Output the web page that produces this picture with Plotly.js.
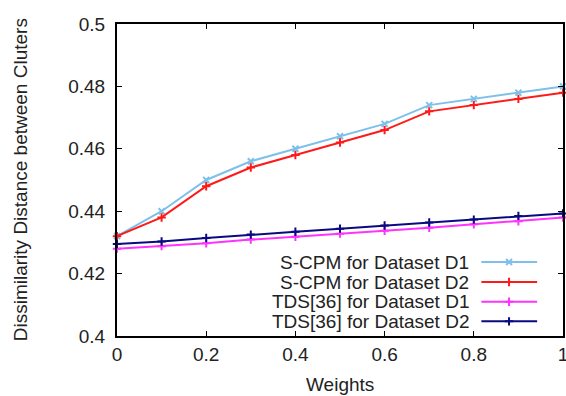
<!DOCTYPE html>
<html><head><meta charset="utf-8">
<script src="https://cdn.plot.ly/plotly-3.0.1.min.js"></script>
<style>html,body{margin:0;padding:0;background:#fff}</style>
</head><body><div id="chart" style="width:566px;height:396px"></div>
<script>
const weights = [0, 0.1, 0.2, 0.3, 0.4, 0.5, 0.6, 0.7, 0.8, 0.9, 1.0];
const scpmD1 = [0.432, 0.440, 0.450, 0.456, 0.460, 0.464, 0.468, 0.474, 0.476, 0.478, 0.480];
const scpmD2 = [0.432, 0.438, 0.448, 0.454, 0.458, 0.462, 0.466, 0.472, 0.474, 0.476, 0.478];
const tdsD1  = [0.4280, 0.4288, 0.4297, 0.4309, 0.4318, 0.4328, 0.4337, 0.4347, 0.4358, 0.4368, 0.4380];
const tdsD2  = [0.4295, 0.4303, 0.4314, 0.4325, 0.4334, 0.4344, 0.4354, 0.4364, 0.4373, 0.4385, 0.4393];
const seriesNames = ["S-CPM for Dataset D1", "S-CPM for Dataset D2", "TDS[36] for Dataset D1", "TDS[36] for Dataset D2"];
const xTicks = [0, 0.2, 0.4, 0.6, 0.8, 1];
const xTickText = ["0", "0.2", "0.4", "0.6", "0.8", "1"];
const yTicks = [0.4, 0.42, 0.44, 0.46, 0.48, 0.5];
const yTickText = ["0.4", "0.42", "0.44", "0.46", "0.48", "0.5"];
const xTitle = "Weights";
const yTitle = "Dissimilarity Distance between Cluters";

const colors = ["#7dc0ea", "#ff1a1a", "#ff33ff", "#0a0a80"];
const symbols = ["x-thin-open", "cross-thin-open", "cross-thin-open", "cross-thin-open"];
const data = [scpmD1, scpmD2, tdsD1, tdsD2];
const font = "Liberation Sans, Arial, sans-serif";
const textColor = "#222";

function markerFor(i) {
  return {symbol: symbols[i], size: 6, color: colors[i], line: {color: colors[i], width: 2}};
}

const traces = data.map((ys, i) => ({
  x: weights, y: ys, type: "scatter", mode: "lines+markers", name: seriesNames[i],
  line: {color: colors[i], width: 2},
  marker: markerFor(i),
  showlegend: false, cliponaxis: false
}));

// legend (gnuplot style: text right-aligned, sample on the right)
const legY = [0.237, 0.173, 0.110, 0.047];
const shapes = [];
const annotations = [];
seriesNames.forEach((n, i) => {
  annotations.push({xref: "paper", yref: "paper", x: 0.794, y: legY[i], text: n, showarrow: false,
    xanchor: "right", yanchor: "middle", font: {family: font, size: 19, color: textColor}});
  shapes.push({type: "line", xref: "paper", yref: "paper", x0: 0.817, x1: 0.942, y0: legY[i], y1: legY[i],
    line: {color: colors[i], width: 2}});
  traces.push({x: [0.879], y: [legY[i]], xaxis: "x2", yaxis: "y2", type: "scatter", mode: "markers",
    marker: markerFor(i), showlegend: false, hoverinfo: "skip"});
});
annotations.push({xref: "paper", yref: "paper", x: 0.5, y: -0.157, text: xTitle, showarrow: false,
  xanchor: "center", yanchor: "middle", font: {family: font, size: 19, color: textColor}});
annotations.push({xref: "paper", yref: "paper", x: -0.217, y: 0.5, text: yTitle, showarrow: false, textangle: -90,
  xanchor: "center", yanchor: "middle", font: {family: font, size: 19, color: textColor}});

const axisCommon = {ticks: "inside", ticklen: 5, tickwidth: 1, tickcolor: "#000", showgrid: false, zeroline: false,
  showline: true, linecolor: "#000", linewidth: 2, mirror: "allticks", ticklabeloverflow: "allow",
  tickfont: {family: font, size: 19, color: textColor}};

const layout = {
  width: 566, height: 396,
  margin: {l: 117, r: 3, t: 24, b: 60},
  paper_bgcolor: "#fff", plot_bgcolor: "#fff",
  font: {family: font, size: 19, color: textColor},
  showlegend: false,
  xaxis: Object.assign({range: [0, 1], tickvals: xTicks, ticktext: xTickText}, axisCommon),
  yaxis: Object.assign({range: [0.4, 0.5], tickvals: yTicks, ticktext: yTickText, ticklabelstandoff: 6}, axisCommon),
  xaxis2: {range: [0, 1], overlaying: "x", visible: false, fixedrange: true},
  yaxis2: {range: [0, 1], overlaying: "y", visible: false, fixedrange: true},
  shapes: shapes, annotations: annotations
};
Plotly.newPlot("chart", traces, layout, {staticPlot: true, displayModeBar: false});
</script></body></html>
